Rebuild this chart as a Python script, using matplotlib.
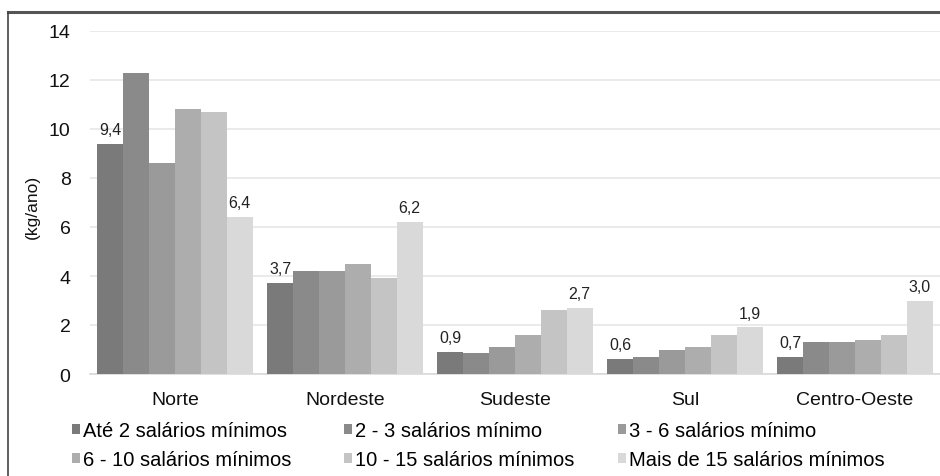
import matplotlib
matplotlib.use("Agg")
import matplotlib.pyplot as plt
import numpy as np
from matplotlib.lines import Line2D
from matplotlib.patches import Patch

regions = ["Norte", "Nordeste", "Sudeste", "Sul", "Centro-Oeste"]
series_names = ["Até 2 salários mínimos", "2 - 3 salários mínimo", "3 - 6 salários mínimo",
                "6 - 10 salários mínimos", "10 - 15 salários mínimos", "Mais de 15 salários mínimos"]
values = [
    [9.4, 3.7, 0.9, 0.6, 0.7],
    [12.3, 4.2, 0.85, 0.7, 1.3],
    [8.6, 4.2, 1.1, 1.0, 1.3],
    [10.8, 4.5, 1.6, 1.1, 1.4],
    [10.7, 3.9, 2.6, 1.6, 1.6],
    [6.4, 6.2, 2.7, 1.9, 3.0],
]
first_labels = ["9,4", "3,7", "0,9", "0,6", "0,7"]
last_labels = ["6,4", "6,2", "2,7", "1,9", "3,0"]
yticks = [0, 2, 4, 6, 8, 10, 12, 14]
colors = ["#7a7a7a", "#8a8a8a", "#9a9a9a", "#adadad", "#c4c4c4", "#d9d9d9"]

plt.rcParams['font.family'] = ['Liberation Sans', 'DejaVu Sans']

fig = plt.figure(figsize=(9.4, 4.77), dpi=100)
ax = fig.add_axes([90/940, 1-375/477, 1-90/940, (375-32)/477])

x = np.arange(len(regions))
bw = 0.152
n = len(values)
for i, vals in enumerate(values):
    off = (i - (n-1)/2) * bw
    bars = ax.bar(x + off, vals, width=bw, color=colors[i], label=series_names[i], zorder=3)
    if i == 0:
        ax.bar_label(bars, labels=first_labels, padding=5, fontsize=11.5, color="#222222")
    if i == n-1:
        ax.bar_label(bars, labels=last_labels, padding=5, fontsize=11.5, color="#222222")

ax.set_xlim(-0.5, len(regions)-0.5)
ax.set_ylim(0, 14)
ax.set_yticks(yticks)
ax.set_yticklabels([str(t) for t in yticks], fontsize=14, color="#111111")
ax.set_xticks(x)
ax.set_xticklabels(regions, fontsize=14, color="#111111")
ax.tick_params(axis='y', length=0, pad=14)
ax.tick_params(axis='x', length=0, pad=12.5)
ax.grid(axis='y', color="#e6e6e6", linewidth=1.2, zorder=0)
for s in ["top", "right", "left"]:
    ax.spines[s].set_visible(False)
ax.spines["bottom"].set_color("#d9d9d9")
ax.spines["bottom"].set_linewidth(1.2)
ax.set_ylabel("(kg/ano)", fontsize=12.5, color="#111111")
ax.yaxis.set_label_coords(-(90-40)/850, 0.5 + (203-206)/343)

# legend: three columns placed explicitly, row-major order
col_x = [72, 344, 618]
for c in range(3):
    idx = [c, c + 3]
    hs = [Patch(facecolor=colors[k]) for k in idx]
    ls = [series_names[k] for k in idx]
    fig.legend(hs, ls, loc="upper left", bbox_to_anchor=(col_x[c]/940, 1-422/477),
               frameon=False, prop={'size': 14.5}, handlelength=0.4, handleheight=0.4,
               handletextpad=0.15, labelspacing=0.52, borderaxespad=0, borderpad=0)

# figure frame (top and left lines)
fig.add_artist(Line2D([8/940, 1.0], [1-12.5/477, 1-12.5/477], color="#555555", linewidth=2.2,
                      transform=fig.transFigure))
fig.add_artist(Line2D([8/940, 8/940], [0, 1-12.5/477], color="#444444", linewidth=1.2,
                      transform=fig.transFigure))

fig.savefig("out.png", dpi=100)
